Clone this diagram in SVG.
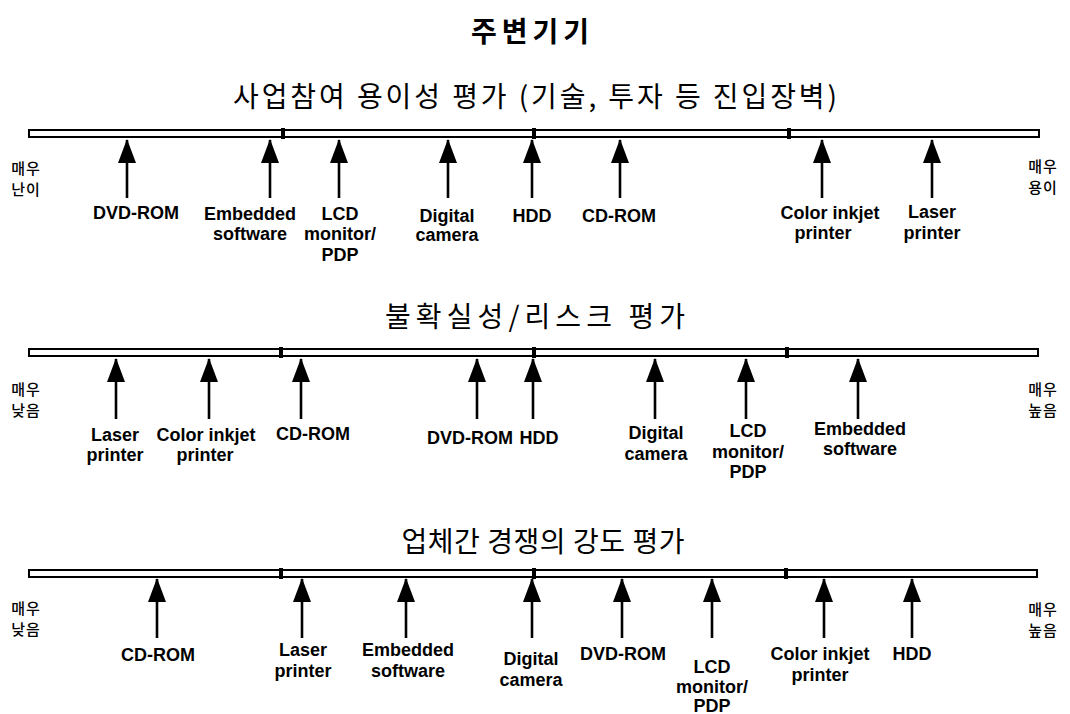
<svg xmlns="http://www.w3.org/2000/svg" width="1070" height="714" viewBox="0 0 1070 714">
<style>
.bar{fill:#fff;stroke:#000;stroke-width:2}
.div{fill:#000}
.arr{stroke:#000;stroke-width:2.6;fill:none;marker-end:url(#ah)}
.lbl{font-family:"Liberation Sans",Arial,sans-serif;font-weight:bold;font-size:18px;fill:#000;text-anchor:middle}
.side{font-family:"Noto Sans CJK KR",sans-serif;font-size:15px;font-weight:500;fill:#000;text-anchor:middle;letter-spacing:1px}
.ttl{font-family:"Noto Sans CJK KR",sans-serif;font-size:28px;fill:#000;text-anchor:middle}
.main{font-family:"Noto Sans CJK KR",sans-serif;font-size:28px;font-weight:bold;fill:#000;text-anchor:middle}
</style>
<defs>
<marker id="ah" viewBox="0 0 24 18" refX="23" refY="9" markerWidth="24" markerHeight="18" markerUnits="userSpaceOnUse" orient="auto">
<path d="M0,0 L24,9 L0,18 z" fill="#000"/>
</marker>
</defs>
<rect width="1070" height="714" fill="#fff"/>

<g id="title"><text class="main" x="530" y="42" textLength="118" lengthAdjust="spacing">주변기기</text></g>

<g id="section1-title"><text class="ttl" x="535" y="107" textLength="604" lengthAdjust="spacing">사업참여 용이성 평가 (기술, 투자 등 진입장벽)</text></g>
<g id="section2-title"><text class="ttl" x="535" y="327" textLength="300" lengthAdjust="spacing">불확실성/리스크 평가</text></g>
<g id="section3-title"><text class="ttl" x="543" y="552" textLength="283" lengthAdjust="spacing">업체간 경쟁의 강도 평가</text></g>

<g id="bars">
<rect class="bar" x="29" y="130" width="1010" height="7"/>
<rect class="div" x="281" y="128" width="4" height="11"/>
<rect class="div" x="532" y="128" width="4" height="11"/>
<rect class="div" x="787" y="128" width="4" height="11"/>
<rect class="bar" x="29" y="349" width="1009" height="7"/>
<rect class="div" x="279" y="347" width="4" height="11"/>
<rect class="div" x="532" y="347" width="4" height="11"/>
<rect class="div" x="785" y="347" width="4" height="11"/>
<rect class="bar" x="29" y="570" width="1008" height="7"/>
<rect class="div" x="279" y="568" width="4" height="11"/>
<rect class="div" x="532" y="568" width="4" height="11"/>
<rect class="div" x="784" y="568" width="4" height="11"/>
</g>

<g id="side-labels">
<text class="side" x="26" y="174">매우</text><text class="side" x="26" y="195">난이</text>
<text class="side" x="1043" y="172">매우</text><text class="side" x="1043" y="193">용이</text>
<text class="side" x="26" y="395">매우</text><text class="side" x="26" y="416">낮음</text>
<text class="side" x="1043" y="395">매우</text><text class="side" x="1043" y="416">높음</text>
<text class="side" x="26" y="614">매우</text><text class="side" x="26" y="635">낮음</text>
<text class="side" x="1043" y="615">매우</text><text class="side" x="1043" y="636">높음</text>
</g>

<g id="connectors">
<line class="arr" x1="127" y1="198" x2="127" y2="140"/>
<line class="arr" x1="270" y1="198" x2="270" y2="140"/>
<line class="arr" x1="339" y1="198" x2="339" y2="140"/>
<line class="arr" x1="448" y1="198" x2="448" y2="140"/>
<line class="arr" x1="532" y1="198" x2="532" y2="140"/>
<line class="arr" x1="620" y1="198" x2="620" y2="140"/>
<line class="arr" x1="822" y1="198" x2="822" y2="140"/>
<line class="arr" x1="932" y1="198" x2="932" y2="140"/>

<line class="arr" x1="116" y1="419" x2="116" y2="359"/>
<line class="arr" x1="209" y1="419" x2="209" y2="359"/>
<line class="arr" x1="301" y1="419" x2="301" y2="359"/>
<line class="arr" x1="477" y1="419" x2="477" y2="359"/>
<line class="arr" x1="533" y1="419" x2="533" y2="359"/>
<line class="arr" x1="655" y1="419" x2="655" y2="359"/>
<line class="arr" x1="746" y1="419" x2="746" y2="359"/>
<line class="arr" x1="858" y1="419" x2="858" y2="359"/>

<line class="arr" x1="157" y1="638" x2="157" y2="579"/>
<line class="arr" x1="302" y1="638" x2="302" y2="579"/>
<line class="arr" x1="406" y1="638" x2="406" y2="579"/>
<line class="arr" x1="532" y1="638" x2="532" y2="579"/>
<line class="arr" x1="622" y1="638" x2="622" y2="579"/>
<line class="arr" x1="712" y1="638" x2="712" y2="579"/>
<line class="arr" x1="824" y1="638" x2="824" y2="579"/>
<line class="arr" x1="912" y1="638" x2="912" y2="579"/>
</g>

<g id="r1-dvdrom"><text class="lbl" x="136" y="219">DVD-ROM</text></g>
<g id="r1-embedded"><text class="lbl" x="250" y="220">Embedded</text><text class="lbl" x="250" y="240">software</text></g>
<g id="r1-lcd"><text class="lbl" x="340" y="220">LCD</text><text class="lbl" x="340" y="240">monitor/</text><text class="lbl" x="340" y="261">PDP</text></g>
<g id="r1-camera"><text class="lbl" x="447" y="222">Digital</text><text class="lbl" x="447" y="241">camera</text></g>
<g id="r1-hdd"><text class="lbl" x="532" y="222">HDD</text></g>
<g id="r1-cdrom"><text class="lbl" x="619" y="222">CD-ROM</text></g>
<g id="r1-inkjet"><text class="lbl" x="830" y="219">Color inkjet</text><text class="lbl" x="823" y="239">printer</text></g>
<g id="r1-laser"><text class="lbl" x="932" y="218">Laser</text><text class="lbl" x="932" y="239">printer</text></g>

<g id="r2-laser"><text class="lbl" x="115" y="441">Laser</text><text class="lbl" x="115" y="461">printer</text></g>
<g id="r2-inkjet"><text class="lbl" x="206" y="441">Color inkjet</text><text class="lbl" x="205" y="461">printer</text></g>
<g id="r2-cdrom"><text class="lbl" x="313" y="440">CD-ROM</text></g>
<g id="r2-dvdrom"><text class="lbl" x="470" y="444">DVD-ROM</text></g>
<g id="r2-hdd"><text class="lbl" x="539" y="444">HDD</text></g>
<g id="r2-camera"><text class="lbl" x="656" y="439">Digital</text><text class="lbl" x="656" y="460">camera</text></g>
<g id="r2-lcd"><text class="lbl" x="748" y="437">LCD</text><text class="lbl" x="748" y="458">monitor/</text><text class="lbl" x="748" y="478">PDP</text></g>
<g id="r2-embedded"><text class="lbl" x="860" y="435">Embedded</text><text class="lbl" x="860" y="455">software</text></g>

<g id="r3-cdrom"><text class="lbl" x="158" y="661">CD-ROM</text></g>
<g id="r3-laser"><text class="lbl" x="303" y="656">Laser</text><text class="lbl" x="303" y="677">printer</text></g>
<g id="r3-embedded"><text class="lbl" x="408" y="656">Embedded</text><text class="lbl" x="408" y="677">software</text></g>
<g id="r3-camera"><text class="lbl" x="531" y="665">Digital</text><text class="lbl" x="531" y="686">camera</text></g>
<g id="r3-dvdrom"><text class="lbl" x="623" y="660">DVD-ROM</text></g>
<g id="r3-lcd"><text class="lbl" x="712" y="673">LCD</text><text class="lbl" x="712" y="693">monitor/</text><text class="lbl" x="712" y="712">PDP</text></g>
<g id="r3-inkjet"><text class="lbl" x="820" y="660">Color inkjet</text><text class="lbl" x="820" y="681">printer</text></g>
<g id="r3-hdd"><text class="lbl" x="912" y="660">HDD</text></g>
</svg>
